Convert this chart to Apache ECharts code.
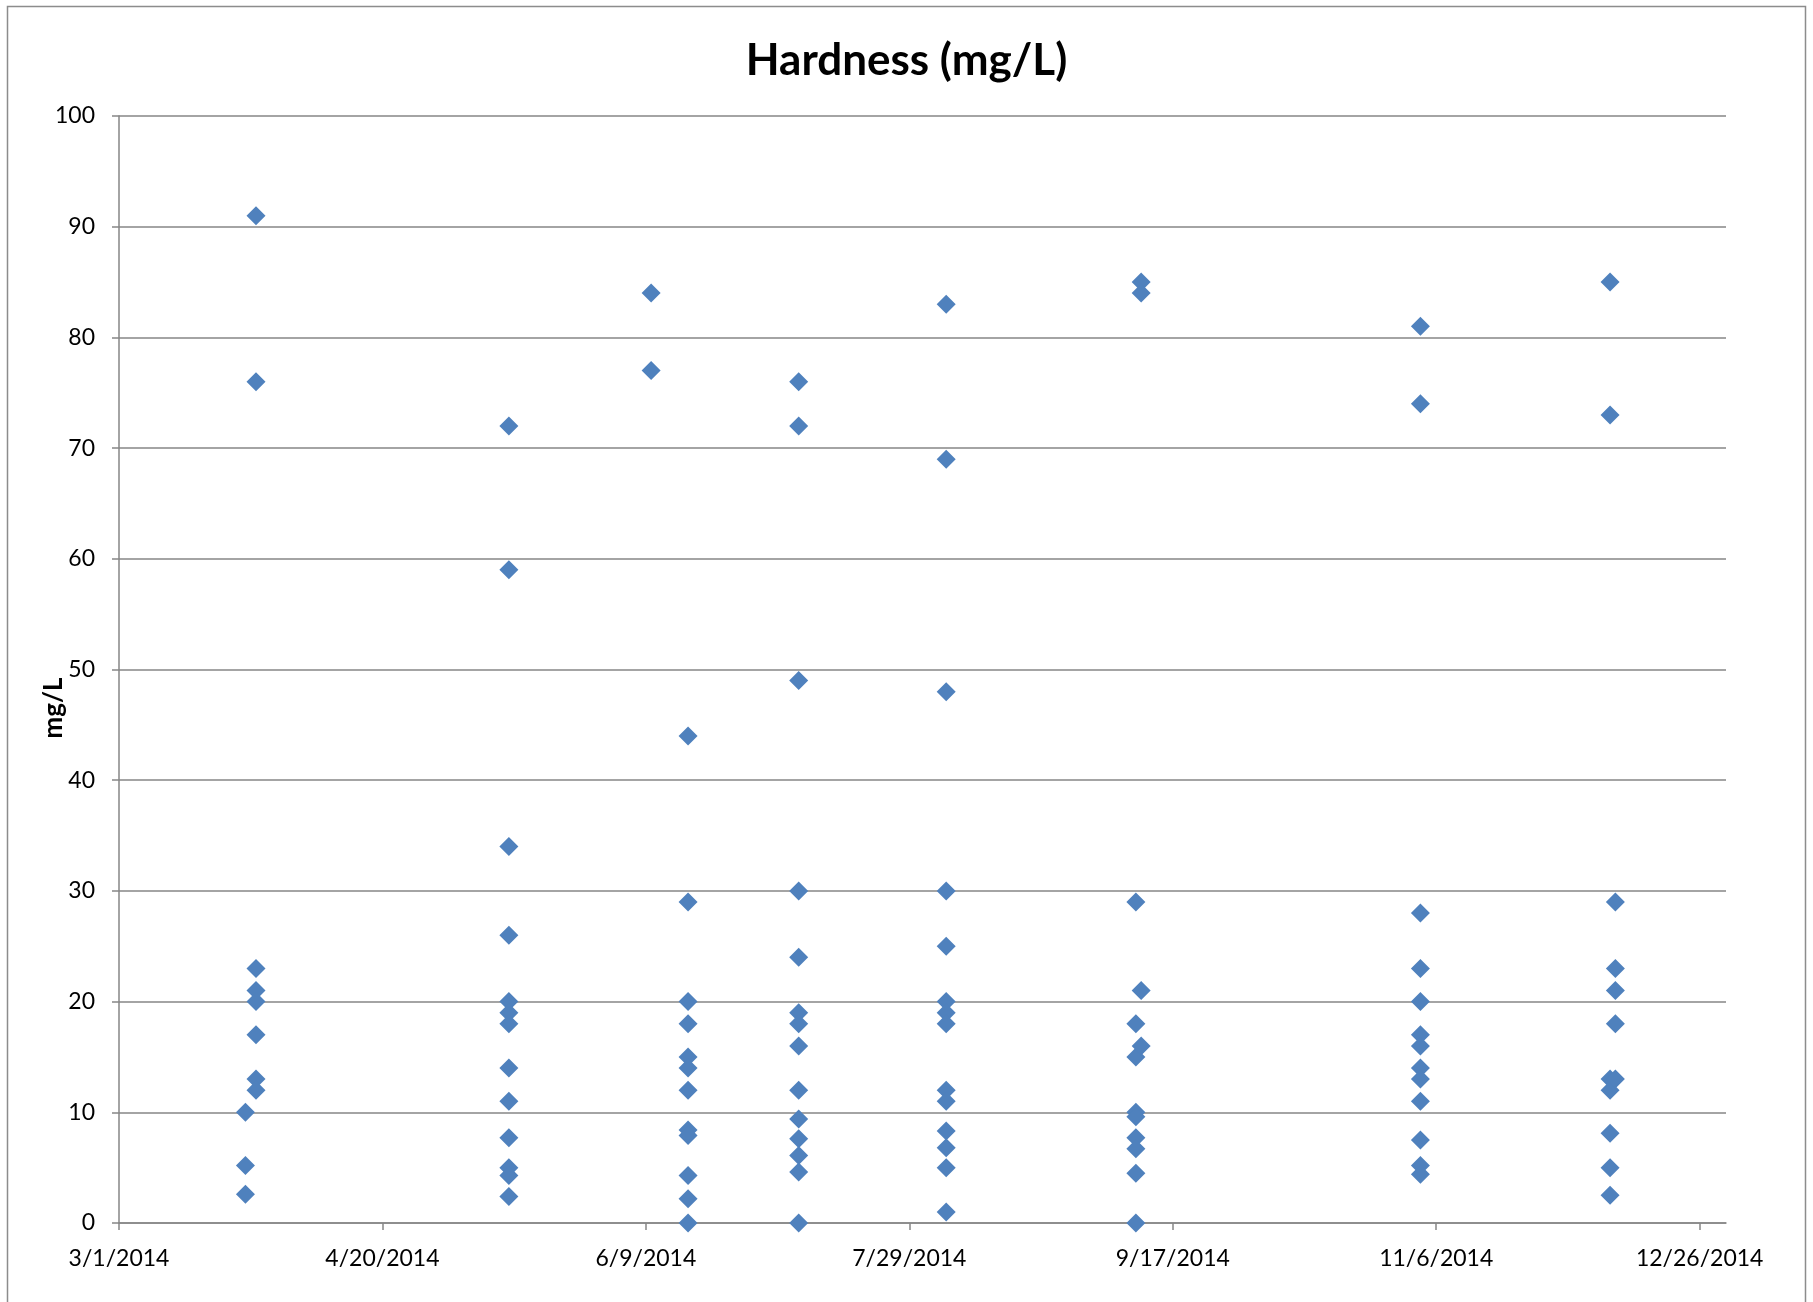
<!DOCTYPE html>
<html>
<head>
<meta charset="utf-8">
<script src="https://cdn.jsdelivr.net/npm/echarts@6/dist/echarts.min.js"></script>
<style>
html,body{margin:0;padding:0;background:#fff;}
#chart{width:1813px;height:1302px;}
</style>
</head>
<body>
<div id="chart"></div>
<script>
// ---- data ----
const sampleDates = ['3/25/2014','3/27/2014','5/14/2014','6/10/2014','6/17/2014','7/8/2014','8/5/2014','9/10/2014','9/11/2014','11/3/2014','12/9/2014','12/10/2014'];
const mar25 = [10, 5.2, 2.6];
const mar27 = [91, 76, 23, 21, 20, 17, 13, 12];
const may14 = [72, 59, 34, 26, 20, 19, 18, 14, 11, 7.7, 5, 4.3, 2.4];
const jun10 = [84, 77];
const jun17 = [44, 29, 20, 18, 15, 14, 12, 8.4, 7.9, 4.3, 2.2, 0];
const jul08 = [76, 72, 49, 30, 24, 19, 18, 16, 12, 9.4, 7.6, 6.1, 4.6, 0];
const aug05 = [83, 69, 48, 30, 25, 20, 19, 18, 12, 11, 8.3, 6.8, 5, 1];
const sep10 = [29, 18, 15, 10, 9.6, 7.7, 6.7, 4.5, 0];
const sep11 = [85, 84, 21, 16];
const nov03 = [81, 74, 28, 23, 20, 17, 16, 14, 13, 11, 7.5, 5.2, 4.4];
const dec09 = [85, 73, 13, 12, 8.1, 5, 2.5];
const dec10 = [29, 23, 21, 18, 13];
const valueLists = [mar25, mar27, may14, jun10, jun17, jul08, aug05, sep10, sep11, nov03, dec09, dec10];

const xTickLabels = ['3/1/2014','4/20/2014','6/9/2014','7/29/2014','9/17/2014','11/6/2014','12/26/2014'];
const axisStartDate = '3/1/2014';
const axisEndDate = '12/31/2014';
const yTicks = [0, 10, 20, 30, 40, 50, 60, 70, 80, 90, 100];
const yAxisTitle = 'mg/L';

// ---- helpers ----
function toUTC(s){ const p = s.split('/').map(Number); return Date.UTC(p[2], p[0]-1, p[1]); }
const DAY = 86400000;
const origin = toUTC(axisStartDate);
function dayOffset(s){ return Math.round((toUTC(s) - origin) / DAY); }

const points = [];
sampleDates.forEach((d, i) => {
  const x = dayOffset(d);
  valueLists[i].forEach(v => points.push([x, v]));
});

const FONT = 'Lato';
const chart = echarts.init(document.getElementById('chart'), null, {renderer:'canvas'});
chart.setOption({
  backgroundColor: '#ffffff',
  animation: false,
  title: {
    text: 'Hardness (mg/L)',
    left: 'center',
    top: 34,
    textStyle: {fontFamily: FONT, fontWeight: 'bold', fontSize: 44, color: '#000'}
  },
  graphic: [{
    type: 'rect',
    shape: {x: 7.5, y: 6.5, width: 1798, height: 1320},
    style: {fill: 'none', stroke: '#8c8c8c', lineWidth: 1.5},
    silent: true
  }, {
    type: 'text',
    x: 54, y: 708,
    rotation: Math.PI / 2,
    style: {
      text: yAxisTitle,
      fontFamily: FONT, fontWeight: 'bold', fontSize: 26, fill: '#000',
      align: 'center', verticalAlign: 'middle'
    },
    silent: true
  }],
  grid: {left: 119, right: 87, top: 116, bottom: 79, containLabel: false},
  xAxis: {
    type: 'value',
    min: 0,
    max: dayOffset(axisEndDate),
    interval: 50,
    axisLine: {show: true, onZero: false, lineStyle: {color: '#868686', width: 1.5}},
    axisTick: {show: true, length: 7, lineStyle: {color: '#868686', width: 1.5}},
    splitLine: {show: false},
    axisLabel: {
      margin: 24,
      fontFamily: FONT, fontSize: 23, color: '#000',
      showMaxLabel: false,
      formatter: v => xTickLabels[Math.round(v / 50)] || ''
    }
  },
  yAxis: {
    type: 'value',
    min: yTicks[0],
    max: yTicks[yTicks.length-1],
    interval: yTicks[1] - yTicks[0],
    axisLine: {show: true, lineStyle: {color: '#868686', width: 1.5}},
    axisTick: {show: true, length: 7, lineStyle: {color: '#868686', width: 1.5}},
    splitLine: {show: true, lineStyle: {color: '#868686', width: 1.5}},
    axisLabel: {margin: 24, fontFamily: FONT, fontSize: 23, color: '#000'}
  },
  series: [{
    type: 'scatter',
    data: points,
    symbol: 'diamond',
    symbolSize: 19,
    itemStyle: {color: '#4F81BD', opacity: 1},
    z: 3
  }]
});
</script>
</body>
</html>
